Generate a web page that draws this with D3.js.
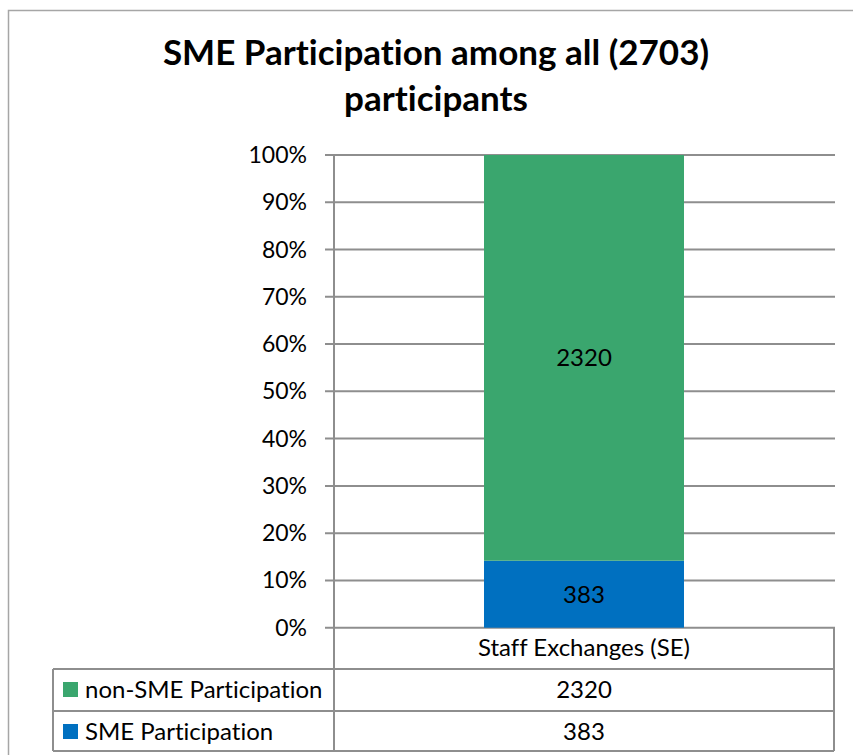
<!DOCTYPE html>
<html>
<head>
<meta charset="utf-8">
<script src="https://cdn.jsdelivr.net/npm/d3@7"></script>
<style>
  body { margin: 0; background: #fff; }
  svg { display: block; font-family: Lato, "Open Sans", sans-serif; font-variant-ligatures: none; }
</style>
</head>
<body>
<svg id="chart" width="853" height="755"></svg>
<script>
// data
const categories  = ["Staff Exchanges (SE)"];
const seriesNames = ["SME Participation", "non-SME Participation"];
const smeValues   = [383];
const nonSmeValues = [2320];
const yTicks      = [0, 0.1, 0.2, 0.3, 0.4, 0.5, 0.6, 0.7, 0.8, 0.9, 1];
const titleLines  = ["SME Participation among all (2703)", "participants"];

const colors = { "SME Participation": "#0070c0", "non-SME Participation": "#3aa66e" };
const gridColor = "#8e8e8e";

let svg = d3.select("#chart"),
  plotLeft   = 334,
  plotRight  = 834,
  plotTop    = 155,
  plotBottom = 627.7,
  tableLeft  = 53,
  rowEdges   = [627.7, 669, 711, 751],
  textSize   = 24;

let rows = categories.map((c, i) => ({
  cat: c,
  "SME Participation": smeValues[i],
  "non-SME Participation": nonSmeValues[i]
}));

let stacked = d3.stack().keys(seriesNames).offset(d3.stackOffsetExpand)(rows);

let x = d3.scaleBand().domain(categories).range([plotLeft, plotRight]).padding(0.4286),
  y = d3.scaleLinear().domain([0, 1]).range([plotBottom, plotTop]);

// outer chart border
svg.append("rect")
  .attr("x", 8.5).attr("y", 10.5)
  .attr("width", 870).attr("height", 760)
  .attr("fill", "none").attr("stroke", "#a6a6a6").attr("stroke-width", 1.5);

// title
svg.append("text")
  .attr("x", 436).attr("y", 65)
  .attr("text-anchor", "middle")
  .attr("font-size", 35).attr("font-weight", "bold")
  .selectAll("tspan").data(titleLines).enter().append("tspan")
  .attr("x", 436).attr("dy", (d, i) => i ? 46 : 0)
  .text(d => d);

// gridlines + tick labels
svg.append("g").selectAll("line").data(yTicks).enter().append("line")
  .attr("x1", plotLeft - 9).attr("x2", plotRight + 1)
  .attr("y1", d => y(d)).attr("y2", d => y(d))
  .attr("stroke", gridColor).attr("stroke-width", 2);

svg.append("g").selectAll("text").data(yTicks).enter().append("text")
  .attr("x", 307).attr("y", d => y(d) + 8)
  .attr("text-anchor", "end").attr("font-size", 23).attr("fill", "#000")
  .text(d3.format(".0%"));

// bars
let layer = svg.append("g").selectAll("g").data(stacked).enter().append("g")
  .attr("fill", d => colors[d.key]);

layer.selectAll("rect").data(d => d).enter().append("rect")
  .attr("x", d => x(d.data.cat))
  .attr("width", x.bandwidth())
  .attr("y", d => y(d[1]))
  .attr("height", d => y(d[0]) - y(d[1]));

layer.selectAll("text").data(d => d.map(p => ({ p: p, key: d.key }))).enter().append("text")
  .attr("x", d => x(d.p.data.cat) + x.bandwidth() / 2)
  .attr("y", d => (y(d.p[0]) + y(d.p[1])) / 2 + 8.5)
  .attr("text-anchor", "middle").attr("font-size", textSize).attr("fill", "#000")
  .text(d => d.p.data[d.key]);

// data table
let tbl = svg.append("g").attr("stroke", gridColor).attr("stroke-width", 2).attr("fill", "none");
tbl.append("line").attr("x1", plotLeft).attr("x2", plotLeft).attr("y1", plotTop).attr("y2", rowEdges[3]);
tbl.append("line").attr("x1", plotRight).attr("x2", plotRight).attr("y1", rowEdges[0]).attr("y2", rowEdges[3]);
tbl.append("line").attr("x1", tableLeft).attr("x2", tableLeft).attr("y1", rowEdges[1]).attr("y2", rowEdges[3]);
tbl.append("line").attr("x1", tableLeft).attr("x2", plotRight).attr("y1", rowEdges[1]).attr("y2", rowEdges[1]);
tbl.append("line").attr("x1", tableLeft).attr("x2", plotRight).attr("y1", rowEdges[2]).attr("y2", rowEdges[2]);
tbl.append("line").attr("x1", tableLeft).attr("x2", plotRight).attr("y1", rowEdges[3]).attr("y2", rowEdges[3]);

svg.append("g").selectAll("text").data(categories).enter().append("text")
  .attr("x", d => x(d) + x.bandwidth() / 2).attr("y", 656)
  .attr("text-anchor", "middle").attr("font-size", textSize)
  .text(d => d);

// table rows: top row is the series drawn on top of the stack
let tableSeries = seriesNames.slice().reverse();
let tRows = svg.append("g").selectAll("g").data(tableSeries).enter().append("g")
  .attr("transform", (d, i) => "translate(0," + rowEdges[i + 1] + ")");

tRows.append("rect")
  .attr("x", 63).attr("y", 13).attr("width", 15).attr("height", 15)
  .attr("fill", d => colors[d]);

tRows.append("text")
  .attr("x", 85).attr("y", 29)
  .attr("font-size", textSize)
  .text(d => d);

tRows.selectAll("text.val").data(d => categories.map((c, i) => ({ c: c, v: d === "SME Participation" ? smeValues[i] : nonSmeValues[i] })))
  .enter().append("text").attr("class", "val")
  .attr("x", d => x(d.c) + x.bandwidth() / 2).attr("y", 29)
  .attr("text-anchor", "middle").attr("font-size", textSize)
  .text(d => d.v);
</script>
</body>
</html>
